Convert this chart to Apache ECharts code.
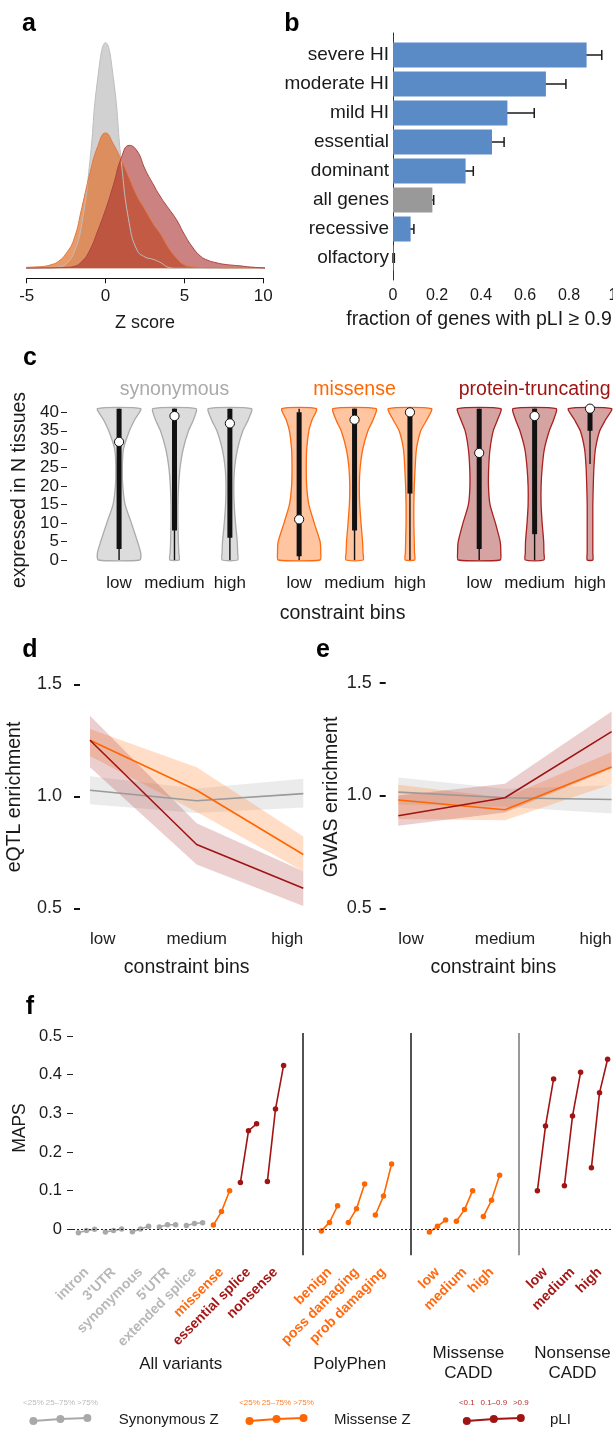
<!DOCTYPE html>
<html>
<head>
<meta charset="utf-8">
<script src="https://cdn.jsdelivr.net/npm/echarts@6/dist/echarts.min.js"></script>
<style>
  html, body { margin: 0; padding: 0; background: #fff; }
  #chart { width: 613px; height: 1429px; }
</style>
</head>
<body>
<div id="chart"></div>
<script>
const FONT = '"Liberation Sans", Arial, sans-serif'

// ---- panel a: Z score densities ----
const zScores = [-5.6, -5, -4.5, -4, -3.5, -3, -2.5, -2, -1.5, -1, -0.5, 0, 0.5, 1, 1.5, 2, 2.5, 3, 3.5, 4, 4.5, 5, 5.5, 6, 6.5, 7, 7.5, 8, 8.5, 9, 9.5, 10, 10.6]
const synDensity = [0, 0, 0, 0, 0, 0.005, 0.02, 0.07, 0.2, 0.47, 0.84, 1.0, 0.84, 0.47, 0.2, 0.08, 0.05, 0.04, 0.025, 0.004, 0, 0, 0, 0, 0, 0, 0, 0, 0, 0, 0, 0, 0]
const misDensity = [0.002, 0.004, 0.006, 0.008, 0.015, 0.03, 0.066, 0.13, 0.27, 0.42, 0.54, 0.6, 0.55, 0.48, 0.4, 0.32, 0.26, 0.2, 0.15, 0.09, 0.045, 0.015, 0.007, 0.004, 0.003, 0.003, 0.002, 0.002, 0.002, 0.002, 0.002, 0.002, 0.002]
const ptvDensity = [0.001, 0.001, 0.001, 0.002, 0.002, 0.003, 0.004, 0.008, 0.03, 0.08, 0.165, 0.26, 0.37, 0.49, 0.545, 0.52, 0.44, 0.375, 0.315, 0.265, 0.215, 0.15, 0.095, 0.055, 0.035, 0.025, 0.018, 0.014, 0.011, 0.007, 0.004, 0.002, 0.001]

// ---- panel b: haploinsufficiency gene sets ----
const hiCategories = ['severe HI', 'moderate HI', 'mild HI', 'essential', 'dominant', 'all genes', 'recessive', 'olfactory']
const hiFraction = [0.88, 0.695, 0.52, 0.45, 0.33, 0.179, 0.08, 0.003]
const hiLower = [0.744, 0.58, 0.391, 0.39, 0.297, 0.168, 0.064, 0.0]
const hiUpper = [0.949, 0.786, 0.642, 0.505, 0.365, 0.185, 0.095, 0.006]
const hiTicks = [0, 0.1, 0.2, 0.3, 0.4, 0.5, 0.6, 0.7, 0.8, 0.9, 1]
const hiTickLabels = [0, 0.2, 0.4, 0.6, 0.8, 1]

// ---- panel c: tissue expression violins ----
const violinGroups = ['synonymous', 'missense', 'protein-truncating']
const constraintBins = ['low', 'medium', 'high']
const violinSlots = [0, 1, 2, 3.25, 4.25, 5.25, 6.5, 7.5, 8.5]
const violinLevels = [0, 2, 5, 10, 15, 20, 25, 30, 35, 38, 41]
const violinWidths = [
  [0.96, 1.0, 0.85, 0.57, 0.28, 0.17, 0.15, 0.2, 0.48, 0.72, 1.0],
  [0.22, 0.2, 0.18, 0.16, 0.16, 0.19, 0.26, 0.4, 0.65, 0.88, 1.0],
  [0.36, 0.36, 0.34, 0.26, 0.2, 0.18, 0.22, 0.35, 0.6, 0.85, 1.0],
  [0.97, 1.0, 0.97, 0.7, 0.45, 0.35, 0.33, 0.35, 0.45, 0.6, 0.8],
  [0.4, 0.39, 0.37, 0.3, 0.24, 0.22, 0.26, 0.38, 0.62, 0.86, 1.0],
  [0.22, 0.21, 0.2, 0.18, 0.18, 0.2, 0.24, 0.3, 0.5, 0.78, 1.0],
  [0.97, 1.0, 0.97, 0.75, 0.5, 0.43, 0.44, 0.5, 0.65, 0.85, 1.0],
  [0.43, 0.43, 0.42, 0.35, 0.3, 0.3, 0.35, 0.45, 0.68, 0.88, 1.0],
  [0.13, 0.13, 0.13, 0.13, 0.13, 0.15, 0.18, 0.25, 0.45, 0.72, 1.0]
]
const tissueWhiskerLow = [0, 0, 0, 0, 0, 0, 0, 0, 26]
const tissueQ1 = [3, 8, 6, 1, 8, 18, 3, 7, 35]
const tissueMedian = [32, 39, 37, 11, 38, 40, 29, 39, 41]
const tissueQ3 = [41, 41, 41, 40, 41, 41, 41, 41, 41]
const tissueWhiskerHigh = [41, 41, 41, 41, 41, 41, 41, 41, 41]
const tissueTicks = [0, 5, 10, 15, 20, 25, 30, 35, 40]

// ---- panel d: eQTL enrichment ----
const eqtlSyn = [1.027, 0.98, 1.012]
const eqtlSynLo = [0.965, 0.925, 0.95]
const eqtlSynHi = [1.09, 1.035, 1.078]
const eqtlMis = [1.25, 1.027, 0.74]
const eqtlMisLo = [1.18, 0.93, 0.665]
const eqtlMisHi = [1.3, 1.13, 0.82]
const eqtlPtv = [1.25, 0.785, 0.59]
const eqtlPtvLo = [1.13, 0.695, 0.51]
const eqtlPtvHi = [1.36, 0.88, 0.665]

// ---- panel e: GWAS enrichment ----
const gwasSyn = [1.015, 0.99, 0.982]
const gwasSynLo = [0.96, 0.95, 0.92]
const gwasSynHi = [1.08, 1.03, 1.045]
const gwasMis = [0.98, 0.937, 1.126]
const gwasMisLo = [0.896, 0.89, 1.05]
const gwasMisHi = [1.048, 0.99, 1.193]
const gwasPtv = [0.91, 0.99, 1.283]
const gwasPtvLo = [0.866, 0.925, 1.12]
const gwasPtvHi = [1.0, 1.052, 1.372]
const enrichTicks = [0.5, 1.0, 1.5]

// ---- panel f: MAPS ----
const mapsLabels = ['intron', "3'UTR", 'synonymous', "5'UTR", 'extended splice', 'missense', 'essential splice', 'nonsense',
  'benign', 'poss damaging', 'prob damaging', 'low', 'medium', 'high', 'low', 'medium', 'high']
const mapsSlots = [0, 1, 2, 3, 4, 5, 6, 7, 9, 10, 11, 13, 14, 15, 17, 18, 19]
const mapsKind = ['syn', 'syn', 'syn', 'syn', 'syn', 'mis', 'ptv', 'ptv', 'mis', 'mis', 'mis', 'mis', 'mis', 'mis', 'ptv', 'ptv', 'ptv']
const mapsValues = [
  [-0.009, -0.003, 0.0],
  [-0.007, -0.003, 0.001],
  [-0.006, 0.001, 0.008],
  [0.006, 0.012, 0.012],
  [0.01, 0.015, 0.017],
  [0.011, 0.046, 0.1],
  [0.121, 0.255, 0.273],
  [0.124, 0.311, 0.424],
  [-0.004, 0.018, 0.061],
  [0.018, 0.053, 0.117],
  [0.037, 0.086, 0.169],
  [-0.007, 0.008, 0.024],
  [0.021, 0.051, 0.1],
  [0.033, 0.075, 0.14],
  [0.1, 0.267, 0.389],
  [0.113, 0.293, 0.406],
  [0.159, 0.353, 0.44]
]
const mapsSeparators = [8, 12, 16]
const mapsTicks = [0, 0.1, 0.2, 0.3, 0.4, 0.5]
const mapsSections = ['All variants', 'PolyPhen', 'Missense\nCADD', 'Nonsense\nCADD']
const legendNames = ['Synonymous Z', 'Missense Z', 'pLI']
const legendTicks = [['<25%', '25–75%', '>75%'], ['<25%', '25–75%', '>75%'], ['<0.1', '0.1–0.9', '>0.9']]

const colors = {
  syn: '#A9A9A9', mis: '#FF6600', ptv: '#A01414',
  synLabel: '#B8B8B8', misLabel: '#FF6A10', ptvLabel: '#A51818'
}
const violinColors = [
  { fill: '#DCDCDC', stroke: '#ABABAB' },
  { fill: '#FFC4A0', stroke: '#FF6A10' },
  { fill: '#D6A3A3', stroke: '#A82020' }
]

const chart = echarts.init(document.getElementById('chart'))

function text(x, y, str, size, opts = {}) {
  return {
    type: 'text', x: x, y: y, rotation: opts.rotation || 0, silent: true,
    style: {
      text: str, fill: opts.color || '#1a1a1a',
      font: (opts.weight || 'normal') + ' ' + size + 'px ' + FONT,
      align: opts.align || 'center', verticalAlign: 'middle',
      textAlign: opts.align || 'center', textVerticalAlign: 'middle',
      lineHeight: opts.lineHeight
    }
  }
}

function densitySeries(values, fill, stroke) {
  return {
    type: 'line', xAxisIndex: 0, yAxisIndex: 0, clip: false,
    data: zScores.map((z, i) => [z, values[i]]),
    symbol: 'none', smooth: 0.5,
    lineStyle: { color: stroke, width: 1 },
    areaStyle: { color: fill, opacity: 1 }
  }
}

function bandSeries(xi, yi, lo, hi, color, stack) {
  return [
    { type: 'line', xAxisIndex: xi, yAxisIndex: yi, data: lo, stack: stack, symbol: 'none', lineStyle: { opacity: 0 } },
    { type: 'line', xAxisIndex: xi, yAxisIndex: yi, data: hi.map((h, i) => +(h - lo[i]).toFixed(4)), stack: stack,
      symbol: 'none', lineStyle: { opacity: 0 }, areaStyle: { color: color, opacity: 1 } }
  ]
}

function lineSeries(xi, yi, values, color) {
  return { type: 'line', xAxisIndex: xi, yAxisIndex: yi, data: values, symbol: 'none', lineStyle: { color: color, width: 1.6 } }
}

function enrichYAxis(grid, offset, margin) {
  return {
    type: 'value', gridIndex: grid, min: 0.5, max: 1.5, offset: offset,
    axisLine: { show: false, onZero: false }, splitLine: { show: false },
    axisTick: { show: true, length: 6, customValues: enrichTicks, lineStyle: { color: '#111', width: 2 } },
    axisLabel: { customValues: enrichTicks, formatter: v => v.toFixed(1), fontSize: 18, color: '#222', margin: margin, fontFamily: FONT }
  }
}

function enrichXAxis(grid) {
  return {
    type: 'category', gridIndex: grid, data: constraintBins, boundaryGap: false,
    axisLine: { show: false }, axisTick: { show: false },
    axisLabel: { fontSize: 17, color: '#222', margin: 23, alignMinLabel: 'left', alignMaxLabel: 'right', fontFamily: FONT }
  }
}

// violin renderer, widths are relative to the widest violin
function renderViolin(params, api) {
  const i = params.dataIndex
  const x = api.value(0)
  const halfW = 0.39
  const w = violinWidths[i]
  const right = violinLevels.map((lv, k) => api.coord([x + w[k] * halfW, lv]))
  const left = violinLevels.map((lv, k) => api.coord([x - w[k] * halfW, lv])).reverse()
  const col = violinColors[Math.floor(i / 3)]
  const lo = api.coord([x, tissueWhiskerLow[i]])
  const hi = api.coord([x, tissueWhiskerHigh[i]])
  const q1 = api.coord([x, tissueQ1[i]])
  const q3 = api.coord([x, tissueQ3[i]])
  const med = api.coord([x, tissueMedian[i]])
  return {
    type: 'group',
    children: [
      { type: 'polygon', shape: { points: right.concat(left), smooth: 0.2 }, style: { fill: col.fill, stroke: col.stroke, lineWidth: 1.3 } },
      { type: 'line', shape: { x1: lo[0], y1: lo[1], x2: hi[0], y2: hi[1] }, style: { stroke: '#111', lineWidth: 1.4 } },
      { type: 'rect', shape: { x: q3[0] - 2.5, y: q3[1], width: 5, height: q1[1] - q3[1] }, style: { fill: '#111' } },
      { type: 'circle', shape: { cx: med[0], cy: med[1], r: 4.6 }, style: { fill: '#fff', stroke: '#111', lineWidth: 1 } }
    ]
  }
}

function renderErrorBar(params, api) {
  const a = api.coord([api.value(1), api.value(0)])
  const b = api.coord([api.value(2), api.value(0)])
  const cap = 5
  return {
    type: 'group',
    children: [
      { type: 'line', shape: { x1: a[0], y1: a[1], x2: b[0], y2: b[1] }, style: { stroke: '#1a1a1a', lineWidth: 1.5 } },
      { type: 'line', shape: { x1: a[0], y1: a[1] - cap, x2: a[0], y2: a[1] + cap }, style: { stroke: '#1a1a1a', lineWidth: 1.5 } },
      { type: 'line', shape: { x1: b[0], y1: b[1] - cap, x2: b[0], y2: b[1] + cap }, style: { stroke: '#1a1a1a', lineWidth: 1.5 } }
    ]
  }
}

const mapsSeries = mapsValues.map((vals, i) => {
  const c = colors[mapsKind[i]]
  const s = {
    type: 'line', xAxisIndex: 7, yAxisIndex: 6,
    data: vals.map((v, k) => [mapsSlots[i] + (k - 1) * 0.3, v]),
    symbol: 'circle', symbolSize: 5.5,
    lineStyle: { color: c, width: 1.6 }, itemStyle: { color: c }
  }
  if (i === 0) {
    s.markLine = {
      silent: true, symbol: ['none', 'none'], label: { show: false },
      data: mapsSeparators.map((sep, k) => [
        { coord: [sep, 0.508], lineStyle: { color: k === 2 ? '#777' : '#1a1a1a', width: 1.5, type: 'solid' } },
        { coord: [sep, -0.067] }
      ]).concat([{ yAxis: 0, lineStyle: { color: '#222', width: 1, type: [2, 2] } }])
    }
  }
  return s
})

// legend swatches for panel f
const legendGraphics = []
const legendX = [33.4, 249.5, 466.8]
const legendTextX = [118.7, 334, 550]
const legendColors = [colors.syn, colors.mis, colors.ptv]
const legendTickColors = ['#BBBBBB', '#FF7F2A', '#B43030']
legendNames.forEach((name, i) => {
  const pts = [[legendX[i], 1421], [legendX[i] + 27, 1419], [legendX[i] + 54, 1418]]
  legendGraphics.push({ type: 'polyline', silent: true, shape: { points: pts }, style: { stroke: legendColors[i], lineWidth: 2, fill: null } })
  pts.forEach((p, k) => {
    legendGraphics.push({ type: 'circle', silent: true, shape: { cx: p[0], cy: p[1], r: 4 }, style: { fill: legendColors[i] } })
    legendGraphics.push(text(p[0], 1403, legendTicks[i][k], 8, { color: legendTickColors[i] }))
  })
  legendGraphics.push(text(legendTextX[i], 1420, name, 15, { align: 'left' }))
})

const option = {
  animation: false,
  textStyle: { fontFamily: FONT },
  grid: [
    { left: 26.7, top: 42.7, width: 236.6, height: 225.6, outerBoundsMode: 'none' },
    { left: 393, top: 40.5, width: 220, height: 232, outerBoundsMode: 'none' },
    { left: 393, top: 33, width: 220, height: 247, outerBoundsMode: 'none' },
    { left: 67, top: 406.8, width: 546, height: 153.2, outerBoundsMode: 'none' },
    { left: 90, top: 684.3, width: 213.3, height: 224, outerBoundsMode: 'none' },
    { left: 398.3, top: 682.7, width: 213.3, height: 225.6, outerBoundsMode: 'none' },
    { left: 73, top: 1028.3, width: 540, height: 239.7, outerBoundsMode: 'none' }
  ],
  xAxis: [
    { type: 'value', gridIndex: 0, min: -5, max: 10, interval: 5, offset: 10, splitLine: { show: false },
      axisLine: { onZero: false, lineStyle: { color: '#111', width: 1 } }, axisTick: { length: 5, lineStyle: { color: '#111' } },
      axisLabel: { fontSize: 17, color: '#1a1a1a', margin: 10 } },
    { type: 'value', gridIndex: 1, min: 0, max: 1, offset: 7.5, splitLine: { show: false },
      axisLine: { onZero: false, lineStyle: { color: '#111', width: 1 } },
      axisTick: { length: 4, customValues: hiTicks, lineStyle: { color: '#888' } },
      axisLabel: { customValues: hiTickLabels, fontSize: 16, color: '#1a1a1a', margin: 8 } },
    { type: 'value', gridIndex: 2, min: 0, max: 1, show: false },
    { type: 'value', gridIndex: 3, min: -0.94, max: 8.915, splitLine: { show: false },
      axisLine: { show: false, onZero: false }, axisTick: { show: false },
      axisLabel: { customValues: violinSlots, formatter: v => constraintBins[violinSlots.indexOf(v) % 3], fontSize: 17, color: '#1a1a1a', margin: 15 } },
    { type: 'value', gridIndex: 3, position: 'top', min: -0.94, max: 8.915, splitLine: { show: false },
      axisLine: { show: false, onZero: false }, axisTick: { show: false },
      axisLabel: { customValues: [1, 4.25, 7.5], margin: 7, fontSize: 19.5,
        formatter: v => { const g = [1, 4.25, 7.5].indexOf(v); return '{' + ['syn', 'mis', 'ptv'][g] + '|' + violinGroups[g] + '}' },
        rich: { syn: { color: '#AAAAAA', fontSize: 19.5 }, mis: { color: '#FF6600', fontSize: 19.5 }, ptv: { color: '#A01414', fontSize: 19.5 } } } },
    enrichXAxis(4),
    enrichXAxis(5),
    { type: 'value', gridIndex: 6, min: -0.5, max: 19.5, splitLine: { show: false },
      axisLine: { show: false, onZero: false }, axisTick: { show: false },
      axisLabel: { customValues: mapsSlots, rotate: 45, margin: 2,
        formatter: v => { const k = mapsSlots.indexOf(v); return '{' + mapsKind[k] + '|' + mapsLabels[k] + '}' },
        rich: {
          syn: { color: colors.synLabel, fontWeight: 'bold', fontSize: 14 },
          mis: { color: colors.misLabel, fontWeight: 'bold', fontSize: 14 },
          ptv: { color: colors.ptvLabel, fontWeight: 'bold', fontSize: 14 }
        } } }
  ],
  yAxis: [
    { type: 'value', gridIndex: 0, min: 0, max: 1, show: false },
    { type: 'category', gridIndex: 1, data: hiCategories, inverse: true,
      axisLine: { show: false }, axisTick: { show: false },
      axisLabel: { fontSize: 19, color: '#1a1a1a', margin: 4 } },
    { type: 'value', gridIndex: 2, min: 0, max: 1, splitLine: { show: false },
      axisLine: { show: true, onZero: false, lineStyle: { color: '#333', width: 1 } }, axisTick: { show: false }, axisLabel: { show: false } },
    { type: 'value', gridIndex: 3, min: 0, max: 41.5, splitLine: { show: false },
      axisLine: { show: false, onZero: false },
      axisTick: { show: true, length: 6, customValues: tissueTicks, lineStyle: { color: '#222' } },
      axisLabel: { customValues: tissueTicks, fontSize: 17, color: '#1a1a1a', margin: 8 } },
    enrichYAxis(4, 10, 18),
    enrichYAxis(5, 12.6, 14),
    { type: 'value', gridIndex: 6, min: -0.1, max: 0.52, splitLine: { show: false },
      axisLine: { show: false, onZero: false },
      axisTick: { show: true, length: 6, customValues: mapsTicks, lineStyle: { color: '#222' } },
      axisLabel: { customValues: mapsTicks, fontSize: 16.5, color: '#1a1a1a', margin: 11 } }
  ],
  series: [
    densitySeries(synDensity, 'rgba(190,190,190,0.7)', '#BDBDBD'),
    densitySeries(misDensity, 'rgba(226,120,56,0.75)', '#E07A40'),
    densitySeries(ptvDensity, 'rgba(168,47,43,0.6)', '#A8453F'),
    {
      type: 'bar', xAxisIndex: 1, yAxisIndex: 1, barWidth: 25,
      data: hiFraction.map((v, i) => ({ value: v, itemStyle: { color: hiCategories[i] === 'all genes' ? '#999999' : '#5B8BC6' } }))
    },
    {
      type: 'custom', xAxisIndex: 1, yAxisIndex: 1, renderItem: renderErrorBar,
      encode: { y: 0, x: [1, 2] },
      data: hiCategories.map((c, i) => [i, hiLower[i], hiUpper[i]])
    },
    {
      type: 'custom', xAxisIndex: 3, yAxisIndex: 3, renderItem: renderViolin,
      encode: { x: 0, y: 1 },
      data: violinSlots.map((s, i) => [s, tissueMedian[i]])
    },
    ...bandSeries(5, 4, eqtlSynLo, eqtlSynHi, 'rgba(205,205,205,0.4)', 'dSyn'),
    ...bandSeries(5, 4, eqtlMisLo, eqtlMisHi, 'rgba(255,150,80,0.32)', 'dMis'),
    ...bandSeries(5, 4, eqtlPtvLo, eqtlPtvHi, 'rgba(170,50,50,0.24)', 'dPtv'),
    lineSeries(5, 4, eqtlSyn, '#9A9A9A'),
    lineSeries(5, 4, eqtlMis, '#FF6600'),
    lineSeries(5, 4, eqtlPtv, '#A01414'),
    ...bandSeries(6, 5, gwasSynLo, gwasSynHi, 'rgba(205,205,205,0.4)', 'eSyn'),
    ...bandSeries(6, 5, gwasMisLo, gwasMisHi, 'rgba(255,150,80,0.32)', 'eMis'),
    ...bandSeries(6, 5, gwasPtvLo, gwasPtvHi, 'rgba(170,50,50,0.24)', 'ePtv'),
    lineSeries(6, 5, gwasSyn, '#9A9A9A'),
    lineSeries(6, 5, gwasMis, '#FF6600'),
    lineSeries(6, 5, gwasPtv, '#A01414'),
    ...mapsSeries
  ],
  graphic: [
    text(29, 24, 'a', 25, { weight: 'bold', color: '#000' }),
    text(292, 24, 'b', 25, { weight: 'bold', color: '#000' }),
    text(30, 358, 'c', 25, { weight: 'bold', color: '#000' }),
    text(30, 650, 'd', 25, { weight: 'bold', color: '#000' }),
    text(323, 650, 'e', 25, { weight: 'bold', color: '#000' }),
    text(30, 1007, 'f', 25, { weight: 'bold', color: '#000' }),
    text(145, 323, 'Z score', 18),
    text(479, 320, 'fraction of genes with pLI ≥ 0.9', 19.5),
    text(19.6, 490, 'expressed in N tissues', 19.5, { rotation: Math.PI / 2 }),
    text(342.6, 614, 'constraint bins', 19.5),
    text(15, 797, 'eQTL enrichment', 19.5, { rotation: Math.PI / 2 }),
    text(186.7, 968, 'constraint bins', 19.5),
    text(331.7, 797, 'GWAS enrichment', 19.5, { rotation: Math.PI / 2 }),
    text(493.3, 968, 'constraint bins', 19.5),
    text(20, 1128, 'MAPS', 17.5, { rotation: Math.PI / 2 }),
    text(180.7, 1364, mapsSections[0], 17),
    text(349.7, 1364, mapsSections[1], 17),
    text(468.4, 1363, mapsSections[2], 17, { lineHeight: 20 }),
    text(572.5, 1363, mapsSections[3], 17, { lineHeight: 20 }),
    ...legendGraphics
  ]
}

chart.setOption(option)
</script>
</body>
</html>
